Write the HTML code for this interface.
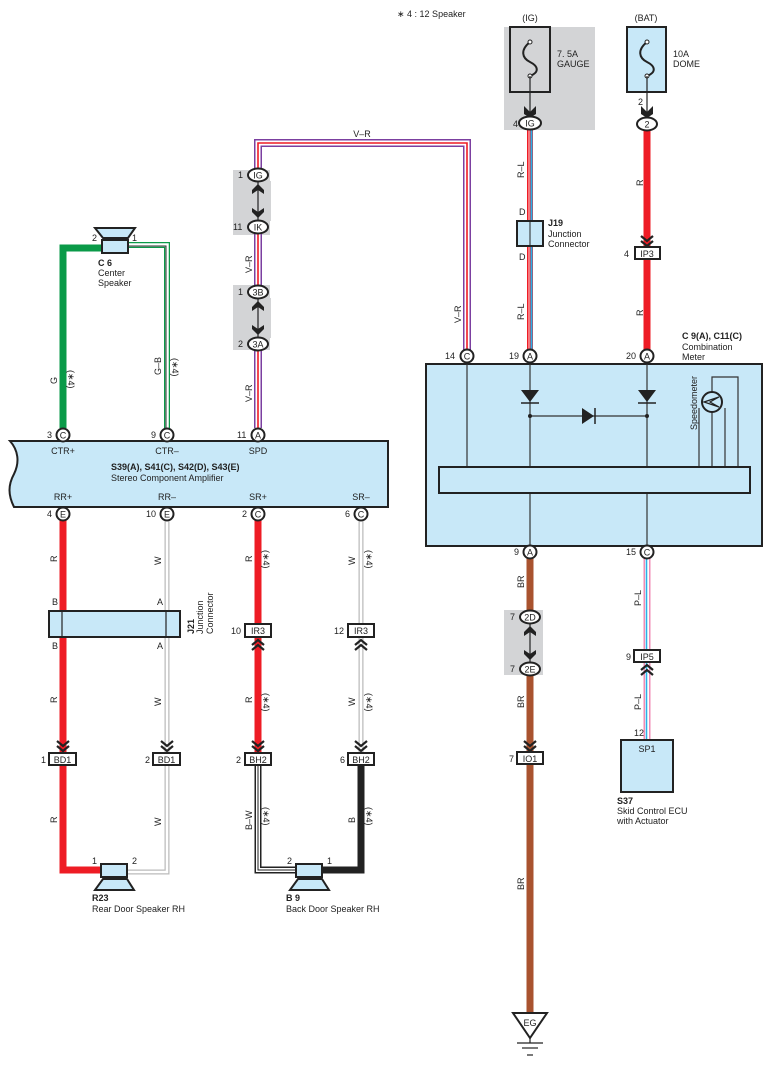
<!DOCTYPE html>
<html><head><meta charset="utf-8"><style>
html,body{margin:0;padding:0;background:#fff}
svg{display:block}
text{font-family:"Liberation Sans",sans-serif;fill:#222}
.s{font-size:9px}
.b{font-size:9px;font-weight:bold}
.p{font-size:9px}
</style></head><body>
<svg width="774" height="1066" viewBox="0 0 774 1066" xmlns="http://www.w3.org/2000/svg">
<defs>
<g id="chevD"><path d="M-6,-8 L0,-3 L6,-8 M-6,-3 L0,2 L6,-3" fill="none" stroke="#222" stroke-width="2.2"/></g>
<g id="chevU"><path d="M-6,8 L0,3 L6,8 M-6,3 L0,-2 L6,3" fill="none" stroke="#222" stroke-width="2.2"/></g>
</defs>

<text x="397" y="17" class="s">∗ 4 : 12 Speaker</text>

<!-- IG fuse -->
<rect x="504" y="27" width="91" height="103" fill="#d3d4d6"/>
<text x="530" y="21" class="s" text-anchor="middle">(IG)</text>
<rect x="510" y="27" width="40" height="65" fill="none" stroke="#222" stroke-width="2"/>
<path d="M530,42 C520,50 522,58 530,62 C538,66 540,72 530,76" fill="none" stroke="#222" stroke-width="2"/>
<circle cx="530" cy="42" r="2" fill="#fff" stroke="#222"/><circle cx="530" cy="76" r="2" fill="#fff" stroke="#222"/>
<text x="557" y="57" class="s">7. 5A</text><text x="557" y="67" class="s">GAUGE</text>
<line x1="530" y1="76" x2="530" y2="112" stroke="#222" stroke-width="1.2"/>
<path d="M524,106 L530,112 L536,106 L536,114 L530,118 L524,114Z" fill="#222"/>

<!-- BAT fuse -->
<text x="646" y="21" class="s" text-anchor="middle">(BAT)</text>
<rect x="627" y="27" width="39" height="65" fill="#c8e8f8" stroke="#222" stroke-width="2"/>
<path d="M647,42 C637,50 639,58 647,62 C655,66 657,72 647,76" fill="none" stroke="#222" stroke-width="2"/>
<circle cx="647" cy="42" r="2" fill="#fff" stroke="#222"/><circle cx="647" cy="76" r="2" fill="#fff" stroke="#222"/>
<text x="673" y="57" class="s">10A</text><text x="673" y="67" class="s">DOME</text>
<line x1="647" y1="76" x2="647" y2="112" stroke="#222" stroke-width="1.2"/>
<path d="M641,106 L647,112 L653,106 L653,114 L647,118 L641,114Z" fill="#222"/>
<text x="638" y="105" class="s">2</text>

<!-- BAT red wire -->
<line x1="647" y1="130" x2="647" y2="350" stroke="#ee1c25" stroke-width="7"/>
<text transform="translate(643,186) rotate(-90)" class="s">R</text>
<text transform="translate(643,316) rotate(-90)" class="s">R</text>
<use href="#chevD" x="647" y="244"/>
<rect x="635" y="247" width="25" height="12" fill="#fff" stroke="#222" stroke-width="2"/>
<text x="647" y="257" class="s" text-anchor="middle">IP3</text>
<text x="624" y="257" class="s">4</text>

<!-- R-L wire -->
<line x1="530" y1="130" x2="530" y2="350" stroke="#ee1c25" stroke-width="6"/>
<line x1="531.5" y1="130" x2="531.5" y2="350" stroke="#2ab0e8" stroke-width="2"/>
<line x1="529" y1="130" x2="529" y2="350" stroke="#fff" stroke-width="0.8"/>
<text transform="translate(524,178) rotate(-90)" class="s">R–L</text>
<text transform="translate(524,320) rotate(-90)" class="s">R–L</text>
<text x="519" y="215" class="s">D</text><text x="519" y="260" class="s">D</text>
<rect x="517" y="221" width="26" height="25" fill="#c8e8f8" stroke="#222" stroke-width="2"/>
<line x1="530" y1="221" x2="530" y2="246" stroke="#222" stroke-width="1"/>
<text x="548" y="226" class="b">J19</text>
<text x="548" y="237" class="s">Junction</text><text x="548" y="247" class="s">Connector</text>

<ellipse cx="530" cy="123" rx="11" ry="6.5" fill="#fff" stroke="#222" stroke-width="2"/>
<text x="530" y="126.5" class="p" text-anchor="middle">IG</text><text x="513" y="127" class="s">4</text>
<ellipse cx="647" cy="124" rx="10" ry="6.5" fill="#fff" stroke="#222" stroke-width="2"/>
<text x="647" y="127.5" class="p" text-anchor="middle">2</text>

<!-- V-R wire -->
<rect x="233" y="170" width="37" height="65" fill="#d3d4d6"/>
<rect x="233" y="285" width="37" height="65" fill="#d3d4d6"/>
<path d="M258,428 L258,143 L467,143 L467,350" fill="none" stroke="#7b3fa0" stroke-width="8"/>
<path d="M258,428 L258,143 L467,143 L467,350" fill="none" stroke="#fff" stroke-width="5"/>
<path d="M258,428 L258,143 L467,143 L467,350" fill="none" stroke="#ee1c25" stroke-width="1.6"/>
<rect x="245" y="181" width="26" height="40" fill="#d3d4d6"/>
<rect x="245" y="298" width="26" height="40" fill="#d3d4d6"/>
<line x1="258" y1="182" x2="258" y2="220" stroke="#222" stroke-width="1.2"/>
<path d="M252,190 L258,184 L264,190 L264,194 L258,190 L252,194Z" fill="#222"/>
<path d="M252,212 L258,218 L264,212 L264,208 L258,212 L252,208Z" fill="#222"/>
<line x1="258" y1="299" x2="258" y2="337" stroke="#222" stroke-width="1.2"/>
<path d="M252,307 L258,301 L264,307 L264,311 L258,307 L252,311Z" fill="#222"/>
<path d="M252,329 L258,335 L264,329 L264,325 L258,329 L252,325Z" fill="#222"/>
<ellipse cx="258" cy="175" rx="10" ry="6.5" fill="#fff" stroke="#222" stroke-width="2"/><text x="258" y="178.5" class="p" text-anchor="middle">IG</text><text x="238" y="178" class="s">1</text>
<ellipse cx="258" cy="227" rx="10" ry="6.5" fill="#fff" stroke="#222" stroke-width="2"/><text x="258" y="230.5" class="p" text-anchor="middle">IK</text><text x="233" y="230" class="s">11</text>
<ellipse cx="258" cy="292" rx="10" ry="6.5" fill="#fff" stroke="#222" stroke-width="2"/><text x="258" y="295.5" class="p" text-anchor="middle">3B</text><text x="238" y="295" class="s">1</text>
<ellipse cx="258" cy="344" rx="10" ry="6.5" fill="#fff" stroke="#222" stroke-width="2"/><text x="258" y="347.5" class="p" text-anchor="middle">3A</text><text x="238" y="347" class="s">2</text>
<text x="362" y="137" class="s" text-anchor="middle">V–R</text>
<text transform="translate(252,273) rotate(-90)" class="s">V–R</text>
<text transform="translate(252,402) rotate(-90)" class="s">V–R</text>
<text transform="translate(461,323) rotate(-90)" class="s">V–R</text>

<!-- Combination meter -->
<text x="682" y="339" class="b">C 9(A), C11(C)</text>
<text x="682" y="350" class="s">Combination</text><text x="682" y="360" class="s">Meter</text>
<rect x="426" y="364" width="336" height="182" fill="#c8e8f8" stroke="#222" stroke-width="2"/>
<g stroke="#333" stroke-width="1.2" fill="none">
<line x1="467" y1="364" x2="467" y2="467"/>
<line x1="530" y1="364" x2="530" y2="467"/>
<line x1="647" y1="364" x2="647" y2="467"/>
<line x1="530" y1="416" x2="647" y2="416"/>
<line x1="530" y1="493" x2="530" y2="546"/>
<line x1="647" y1="493" x2="647" y2="546"/>
<path d="M699,408 L699,467 M712,412 L712,467 M725,408 L725,467 M712,392 L712,377 L738,377 L738,467"/>
</g>
<path d="M521,390 L539,390 L530,402Z" fill="#222"/><line x1="521" y1="403" x2="539" y2="403" stroke="#222" stroke-width="1.5"/>
<path d="M638,390 L656,390 L647,402Z" fill="#222"/><line x1="638" y1="403" x2="656" y2="403" stroke="#222" stroke-width="1.5"/>
<path d="M582,408 L582,424 L594,416Z" fill="#222"/><line x1="595" y1="408" x2="595" y2="424" stroke="#222" stroke-width="1.5"/>
<circle cx="530" cy="416" r="2" fill="#222"/><circle cx="647" cy="416" r="2" fill="#222"/>
<circle cx="712" cy="402" r="10" fill="#c8e8f8" stroke="#222" stroke-width="2"/>
<path d="M704,402 L719,397 L710,402 L719,407Z" fill="none" stroke="#222" stroke-width="1.2"/>
<text transform="translate(697,430) rotate(-90)" class="s">Speedometer</text>
<rect x="439" y="467" width="311" height="26" fill="#c8e8f8" stroke="#222" stroke-width="2"/>

<!-- BR wire -->
<line x1="530" y1="558" x2="530" y2="1014" stroke="#a9532f" stroke-width="7"/>
<rect x="504" y="610" width="39" height="65" fill="#d3d4d6"/>
<rect x="522" y="624" width="16" height="38" fill="#d3d4d6"/>
<line x1="530" y1="624" x2="530" y2="662" stroke="#222" stroke-width="1.2"/>
<path d="M524,632 L530,626 L536,632 L536,636 L530,632 L524,636Z" fill="#222"/>
<path d="M524,654 L530,660 L536,654 L536,650 L530,654 L524,650Z" fill="#222"/>
<ellipse cx="530" cy="617" rx="10" ry="6.5" fill="#fff" stroke="#222" stroke-width="2"/><text x="530" y="620.5" class="p" text-anchor="middle">2D</text><text x="510" y="620" class="s">7</text>
<ellipse cx="530" cy="669" rx="10" ry="6.5" fill="#fff" stroke="#222" stroke-width="2"/><text x="530" y="672.5" class="p" text-anchor="middle">2E</text><text x="510" y="672" class="s">7</text>
<text transform="translate(524,588) rotate(-90)" class="s">BR</text>
<text transform="translate(524,708) rotate(-90)" class="s">BR</text>
<text transform="translate(524,890) rotate(-90)" class="s">BR</text>
<use href="#chevD" x="530" y="749"/>
<rect x="517" y="752" width="26" height="12" fill="#fff" stroke="#222" stroke-width="2"/>
<text x="530" y="762" class="s" text-anchor="middle">IO1</text><text x="509" y="762" class="s">7</text>
<path d="M513,1013 L547,1013 L530,1038Z" fill="#fff" stroke="#222" stroke-width="2"/>
<text x="530" y="1026" class="s" text-anchor="middle">EG</text>
<g stroke="#222" stroke-width="1.2"><line x1="530" y1="1038" x2="530" y2="1043"/><line x1="517" y1="1043" x2="543" y2="1043"/><line x1="522" y1="1048" x2="538" y2="1048"/><line x1="527" y1="1055" x2="533" y2="1055"/></g>

<!-- P-L wire -->
<line x1="647" y1="558" x2="647" y2="740" stroke="#f18bb5" stroke-width="7"/>
<line x1="647" y1="558" x2="647" y2="740" stroke="#fff" stroke-width="4"/>
<line x1="646.5" y1="558" x2="646.5" y2="740" stroke="#2ab0e8" stroke-width="1.6"/>
<text transform="translate(641,606) rotate(-90)" class="s">P–L</text>
<text transform="translate(641,710) rotate(-90)" class="s">P–L</text>
<rect x="634" y="650" width="26" height="12" fill="#fff" stroke="#222" stroke-width="2"/>
<text x="647" y="660" class="s" text-anchor="middle">IP5</text><text x="626" y="660" class="s">9</text>
<use href="#chevU" x="647" y="667"/>
<text x="634" y="736" class="s">12</text>
<rect x="621" y="740" width="52" height="52" fill="#c8e8f8" stroke="#222" stroke-width="2"/>
<text x="647" y="752" class="s" text-anchor="middle">SP1</text>
<text x="617" y="804" class="b">S37</text>
<text x="617" y="814" class="s">Skid Control ECU</text><text x="617" y="824" class="s">with Actuator</text>

<!-- meter pins -->
<g stroke="#222" stroke-width="2" fill="#fff">
<circle cx="467" cy="356" r="6.5"/><circle cx="530" cy="356" r="6.5"/><circle cx="647" cy="356" r="6.5"/>
<circle cx="530" cy="552" r="6.5"/><circle cx="647" cy="552" r="6.5"/>
</g>
<text x="467" y="359.5" class="p" text-anchor="middle">C</text><text x="445" y="359" class="s">14</text>
<text x="530" y="359.5" class="p" text-anchor="middle">A</text><text x="509" y="359" class="s">19</text>
<text x="647" y="359.5" class="p" text-anchor="middle">A</text><text x="626" y="359" class="s">20</text>
<text x="530" y="555.5" class="p" text-anchor="middle">A</text><text x="514" y="555" class="s">9</text>
<text x="647" y="555.5" class="p" text-anchor="middle">C</text><text x="626" y="555" class="s">15</text>

<!-- Center speaker wires -->
<path d="M63,428 L63,248 L102,248" fill="none" stroke="#0a9a48" stroke-width="7"/>
<path d="M167,428 L167,245 L128,245" fill="none" stroke="#0a9a48" stroke-width="6"/>
<path d="M167,428 L167,245 L128,245" fill="none" stroke="#fff" stroke-width="3.5"/>
<path d="M166,428 L166,246 L128,246" fill="none" stroke="#333" stroke-width="1"/>
<path d="M95,228 L135,228 L128,238 L103,238Z" fill="#c8e8f8" stroke="#222" stroke-width="2"/>
<rect x="102" y="240" width="26" height="13" fill="#c8e8f8" stroke="#222" stroke-width="2"/>
<text x="92" y="241" class="s">2</text><text x="132" y="241" class="s">1</text>
<text x="98" y="266" class="b">C 6</text>
<text x="98" y="276" class="s">Center</text><text x="98" y="286" class="s">Speaker</text>
<text transform="translate(57,384) rotate(-90)" class="s">G</text>
<text transform="translate(68,370) rotate(90)" class="s">(∗4)</text>
<text transform="translate(161,375) rotate(-90)" class="s">G–B</text>
<text transform="translate(172,358) rotate(90)" class="s">(∗4)</text>

<!-- Amplifier -->
<path d="M10,441 L388,441 L388,507 L14,507 C8,495 8,485 14,474 C20,462 18,450 10,441Z" fill="#c8e8f8" stroke="#222" stroke-width="2"/>
<text x="63" y="454" class="s" text-anchor="middle">CTR+</text>
<text x="167" y="454" class="s" text-anchor="middle">CTR–</text>
<text x="258" y="454" class="s" text-anchor="middle">SPD</text>
<text x="111" y="470" class="b">S39(A), S41(C), S42(D), S43(E)</text>
<text x="111" y="481" class="s">Stereo Component Amplifier</text>
<text x="63" y="500" class="s" text-anchor="middle">RR+</text>
<text x="167" y="500" class="s" text-anchor="middle">RR–</text>
<text x="258" y="500" class="s" text-anchor="middle">SR+</text>
<text x="361" y="500" class="s" text-anchor="middle">SR–</text>

<!-- lower wires -->
<path d="M63,520 L63,870 L102,870" fill="none" stroke="#ee1c25" stroke-width="7"/>
<path d="M167,520 L167,872 L127,872" fill="none" stroke="#bbb" stroke-width="5"/>
<path d="M167,520 L167,872 L127,872" fill="none" stroke="#fff" stroke-width="2.5"/>
<line x1="258" y1="520" x2="258" y2="753" stroke="#ee1c25" stroke-width="7"/>
<line x1="361" y1="520" x2="361" y2="753" stroke="#bbb" stroke-width="5"/>
<line x1="361" y1="520" x2="361" y2="753" stroke="#fff" stroke-width="2.5"/>
<path d="M258,765 L258,870 L296,870" fill="none" stroke="#222" stroke-width="7"/>
<path d="M258,765 L258,870 L296,870" fill="none" stroke="#fff" stroke-width="4"/>
<path d="M258,765 L258,870 L296,870" fill="none" stroke="#222" stroke-width="1"/>
<path d="M361,765 L361,870 L322,870" fill="none" stroke="#222" stroke-width="7"/>

<!-- J21 -->
<text x="52" y="605" class="s">B</text><text x="52" y="649" class="s">B</text>
<text x="157" y="605" class="s">A</text><text x="157" y="649" class="s">A</text>
<rect x="49" y="611" width="131" height="26" fill="#c8e8f8" stroke="#222" stroke-width="2"/>
<line x1="62" y1="611" x2="62" y2="637" stroke="#222" stroke-width="1.2"/>
<line x1="166" y1="611" x2="166" y2="637" stroke="#222" stroke-width="1.2"/>
<text transform="translate(194,634) rotate(-90)" class="b">J21</text>
<text transform="translate(203,634) rotate(-90)" class="s">Junction</text>
<text transform="translate(213,634) rotate(-90)" class="s">Connector</text>

<text transform="translate(57,562) rotate(-90)" class="s">R</text>
<text transform="translate(161,565) rotate(-90)" class="s">W</text>
<text transform="translate(252,562) rotate(-90)" class="s">R</text>
<text transform="translate(263,550) rotate(90)" class="s">(∗4)</text>
<text transform="translate(355,565) rotate(-90)" class="s">W</text>
<text transform="translate(366,550) rotate(90)" class="s">(∗4)</text>

<text transform="translate(57,703) rotate(-90)" class="s">R</text>
<text transform="translate(161,706) rotate(-90)" class="s">W</text>
<text transform="translate(252,703) rotate(-90)" class="s">R</text>
<text transform="translate(263,693) rotate(90)" class="s">(∗4)</text>
<text transform="translate(355,706) rotate(-90)" class="s">W</text>
<text transform="translate(366,693) rotate(90)" class="s">(∗4)</text>

<text transform="translate(57,823) rotate(-90)" class="s">R</text>
<text transform="translate(161,826) rotate(-90)" class="s">W</text>
<text transform="translate(252,830) rotate(-90)" class="s">B–W</text>
<text transform="translate(263,807) rotate(90)" class="s">(∗4)</text>
<text transform="translate(355,823) rotate(-90)" class="s">B</text>
<text transform="translate(366,807) rotate(90)" class="s">(∗4)</text>

<!-- IR3 -->
<rect x="245" y="624" width="26" height="13" fill="#fff" stroke="#222" stroke-width="2"/>
<text x="258" y="634" class="s" text-anchor="middle">IR3</text><text x="231" y="634" class="s">10</text>
<use href="#chevU" x="258" y="642"/>
<rect x="348" y="624" width="26" height="13" fill="#fff" stroke="#222" stroke-width="2"/>
<text x="361" y="634" class="s" text-anchor="middle">IR3</text><text x="334" y="634" class="s">12</text>
<use href="#chevU" x="361" y="642"/>

<!-- BD1 BH2 -->
<use href="#chevD" x="63" y="749"/><use href="#chevD" x="167" y="749"/>
<use href="#chevD" x="258" y="749"/><use href="#chevD" x="361" y="749"/>
<rect x="49" y="753" width="27" height="12" fill="#fff" stroke="#222" stroke-width="2"/>
<text x="62.5" y="763" class="s" text-anchor="middle">BD1</text><text x="41" y="763" class="s">1</text>
<rect x="153" y="753" width="27" height="12" fill="#fff" stroke="#222" stroke-width="2"/>
<text x="166.5" y="763" class="s" text-anchor="middle">BD1</text><text x="145" y="763" class="s">2</text>
<rect x="245" y="753" width="26" height="12" fill="#fff" stroke="#222" stroke-width="2"/>
<text x="258" y="763" class="s" text-anchor="middle">BH2</text><text x="236" y="763" class="s">2</text>
<rect x="348" y="753" width="26" height="12" fill="#fff" stroke="#222" stroke-width="2"/>
<text x="361" y="763" class="s" text-anchor="middle">BH2</text><text x="340" y="763" class="s">6</text>

<!-- speakers -->
<rect x="101" y="864" width="26" height="13" fill="#c8e8f8" stroke="#222" stroke-width="2"/>
<path d="M103,879 L127,879 L134,890 L95,890Z" fill="#c8e8f8" stroke="#222" stroke-width="2"/>
<text x="92" y="864" class="s">1</text><text x="132" y="864" class="s">2</text>
<text x="92" y="901" class="b">R23</text><text x="92" y="912" class="s">Rear Door Speaker RH</text>
<rect x="296" y="864" width="26" height="13" fill="#c8e8f8" stroke="#222" stroke-width="2"/>
<path d="M298,879 L322,879 L329,890 L290,890Z" fill="#c8e8f8" stroke="#222" stroke-width="2"/>
<text x="287" y="864" class="s">2</text><text x="327" y="864" class="s">1</text>
<text x="286" y="901" class="b">B 9</text><text x="286" y="912" class="s">Back Door Speaker RH</text>

<!-- amp pins -->
<g stroke="#222" stroke-width="2" fill="#fff">
<circle cx="63" cy="435" r="6.5"/><circle cx="167" cy="435" r="6.5"/><circle cx="258" cy="435" r="6.5"/>
<circle cx="63" cy="514" r="6.5"/><circle cx="167" cy="514" r="6.5"/><circle cx="258" cy="514" r="6.5"/><circle cx="361" cy="514" r="6.5"/>
</g>
<text x="63" y="438.5" class="p" text-anchor="middle">C</text><text x="47" y="438" class="s">3</text>
<text x="167" y="438.5" class="p" text-anchor="middle">C</text><text x="151" y="438" class="s">9</text>
<text x="258" y="438.5" class="p" text-anchor="middle">A</text><text x="237" y="438" class="s">11</text>
<text x="63" y="517.5" class="p" text-anchor="middle">E</text><text x="47" y="517" class="s">4</text>
<text x="167" y="517.5" class="p" text-anchor="middle">E</text><text x="146" y="517" class="s">10</text>
<text x="258" y="517.5" class="p" text-anchor="middle">C</text><text x="242" y="517" class="s">2</text>
<text x="361" y="517.5" class="p" text-anchor="middle">C</text><text x="345" y="517" class="s">6</text>
</svg>
</body></html>
